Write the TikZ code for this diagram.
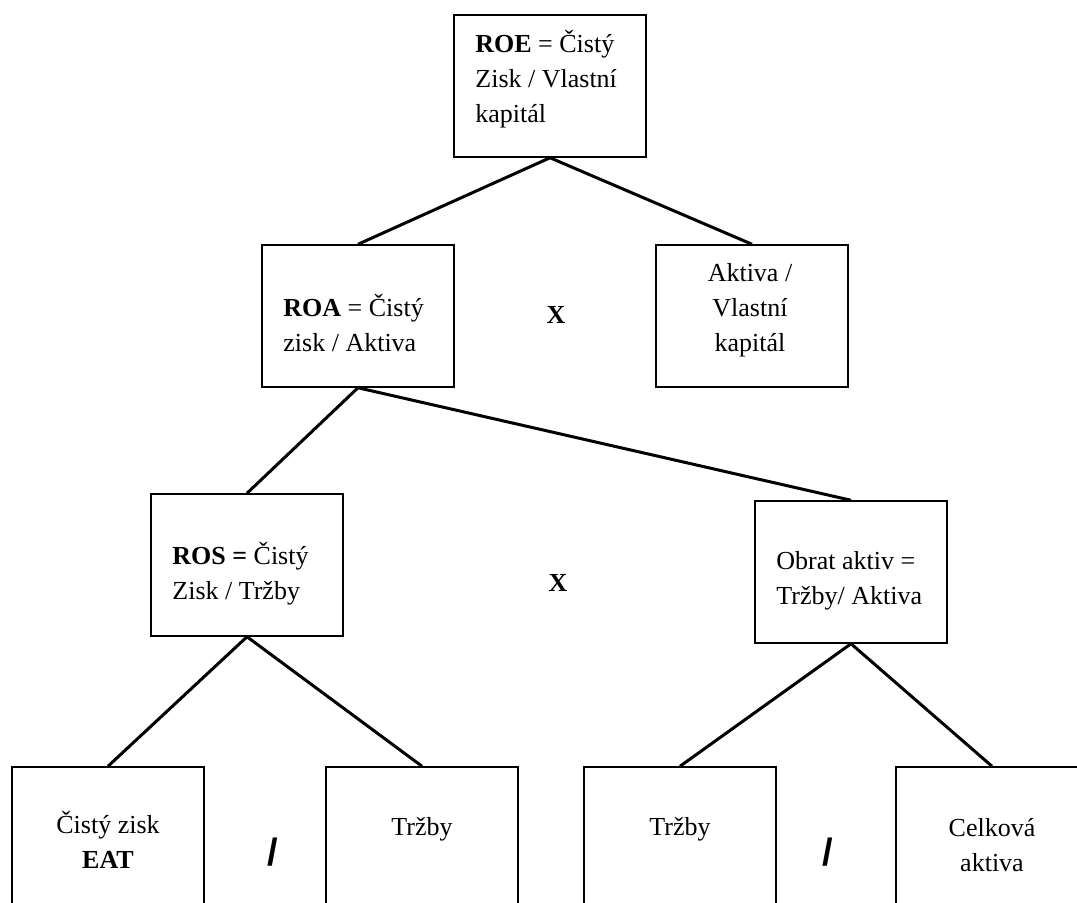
\documentclass[tikz,border=0pt]{standalone}
\usepackage{fontspec}
\setmainfont{Liberation Serif}
\newfontfamily\slashfont{Liberation Sans}

\begin{document}
\begin{tikzpicture}[x=0.5pt,y=-0.5pt,
	cell/.style={draw, line width=0.75pt, minimum width=96pt, minimum height=71pt, inner sep=0pt},
	txt/.style={font=\fontsize{13}{17.5}\selectfont, inner sep=0pt, anchor=base west, align=left},
	ctxt/.style={font=\fontsize{13}{17.5}\selectfont, inner sep=0pt, anchor=base, align=center},
	link/.style={line width=1.5pt},
	times/.style={font=\fontsize{13}{13}\selectfont\bfseries, inner sep=0pt},
	over/.style={font=\fontsize{19}{19}\slashfont\bfseries, inner sep=0pt}]
	\clip (0,0) rectangle (1077,902);

	% boxes
	\node[cell] (roe) at (550,86) {};
	\node[cell] (roa) at (358,316) {};
	\node[cell] (akt) at (752,316) {};
	\node[cell] (ros) at (247,565) {};
	\node[cell] (obrat) at (851,572) {};
	\node[cell] (eat) at (108,838) {};
	\node[cell] (trzbyL) at (422,838) {};
	\node[cell] (trzbyR) at (680,838) {};
	\node[cell] (celk) at (992,838) {};

	% texts (y = baseline of the last line)
	\node[txt] (roeT) at (475,122) {\textbf{ROE} = Čistý\\Zisk / Vlastní\\kapitál};
	\node[txt] (roaT) at (283,351) {\textbf{ROA} = Čistý\\zisk / Aktiva};
	\node[ctxt] (aktT) at (750,351) {Aktiva /\\Vlastní\\kapitál};
	\node[txt] (rosT) at (172,599) {\textbf{ROS =} Čistý\\Zisk / Tržby};
	\node[txt] (obratT) at (776,604) {Obrat aktiv =\\Tržby/ Aktiva};
	\node[ctxt] (eatT) at (108,868) {Čistý zisk\\\textbf{EAT}};
	\node[ctxt] (trzbyLT) at (422,835) {Tržby};
	\node[ctxt] (trzbyRT) at (680,835) {Tržby};
	\node[ctxt] (celkT) at (992,871) {Celková\\aktiva};

	\node[times] (x1) at (556,315) {X};
	\node[times] (x2) at (558,583) {X};
	\node[over] (div1) at (273,852) {/};
	\node[over] (div2) at (828,852) {/};

	% links
	\draw[link] (roe.south)--(roa.north);
	\draw[link] (roe.south)--(akt.north);
	\draw[link] (roa.south)--(ros.north);
	\draw[link] (roa.south)--(obrat.north);
	\draw[link] (ros.south)--(eat.north);
	\draw[link] (ros.south)--(trzbyL.north);
	\draw[link] (obrat.south)--(trzbyR.north);
	\draw[link] (obrat.south)--(celk.north);

\end{tikzpicture}
\end{document}
